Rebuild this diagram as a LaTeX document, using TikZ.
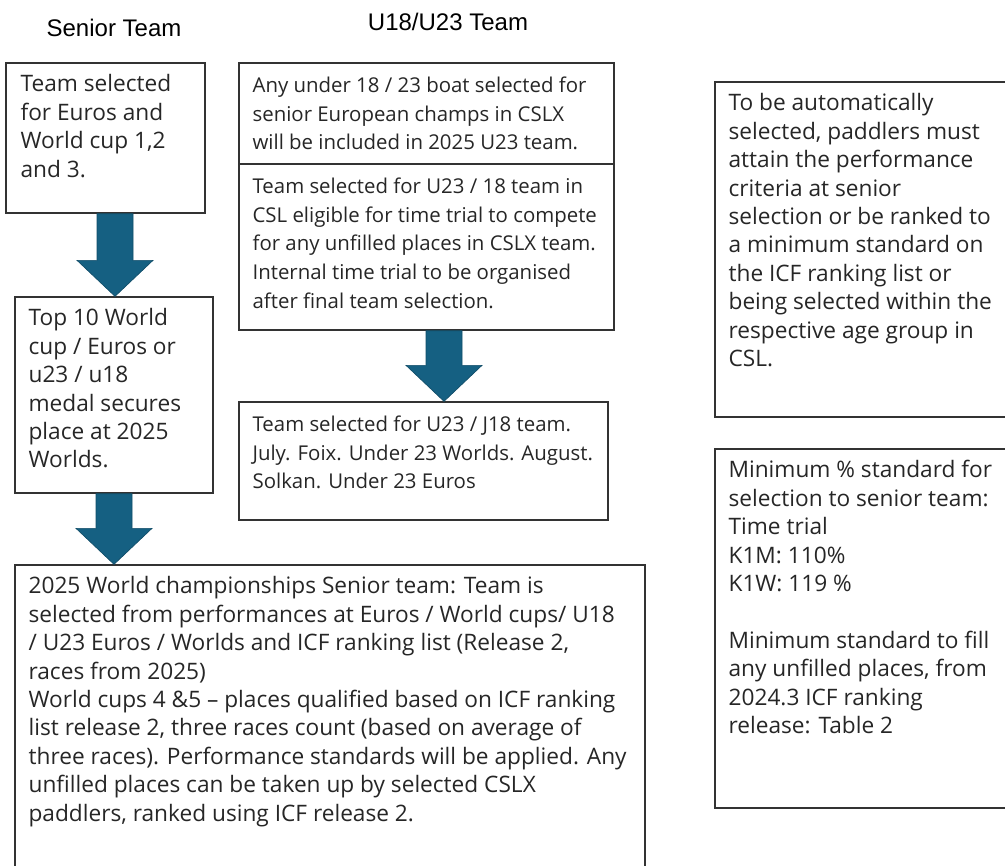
\documentclass[tikz,border=0pt]{standalone}
\usepackage{fontspec}
\setmainfont{Open Sans}
\newfontfamily\headfont{Liberation Sans}
\usetikzlibrary{calc,fit}

\definecolor{arrowblue}{RGB}{21,96,130}

% block arrow: #1 x position, #2 top, #3 tip
\newcommand{\blockarrow}[3]{%
  \path[fill=arrowblue, draw=arrowblue!80!black, line width=0.5pt]
    let \p1=(#1 |- #2), \p2=(#1 |- #3) in
    (\x1-13.5pt,\y1) -- (\x1+13.5pt,\y1) -- (\x1+13.5pt,\y2+27pt)
    -- (\x1+28.5pt,\y2+27pt) -- (\x2,\y2) -- (\x1-28.5pt,\y2+27pt)
    -- (\x1-13.5pt,\y2+27pt) -- cycle;}

\begin{document}
\begin{tikzpicture}[x=0.75pt,y=-0.75pt,
  box/.style={draw=black!80, line width=1pt, inner sep=0pt},
  boxtext/.style={anchor=north west, inner sep=0pt, align=left,
    font=\fontsize{17}{21.3}\selectfont, text=black!85},
  narrowtext/.style={boxtext, font=\fontsize{15.3}{21.6}\selectfont},
  head/.style={font=\headfont\fontsize{18}{20}\selectfont}]
  \useasboundingbox (0,0) rectangle (1005,865);
  \clip (0,0) rectangle (1005,865);

  % column titles
  \node[head] (hsen) at (114,28) {Senior Team};
  \node[head] (hjun) at (448,22) {U18/U23 Team};

  % senior column
  \node[box, fit={(6,63) (205,213)}] (tsen) {};
  \node[boxtext] (tsen-t) at ($(tsen.north west)+(15,12)$)
    {Team selected\\for Euros and\\World cup 1,2\\and 3.};
  \node[box, fit={(15,297) (213,493)}] (top) {};
  \node[boxtext] (top-t) at ($(top.north west)+(14,12)$)
    {Top 10 World\\cup / Euros or\\u23 / u18\\medal secures\\place at 2025\\Worlds.};
  \node[box, fit={(15,565) (645,880)}] (wch) {};
  \node[boxtext] (wch-t) at ($(wch.north west)+(14,12)$)
    {2025 World championships Senior team: Team is\\
     selected from performances at Euros / World cups/ U18\\
     / U23 Euros / Worlds and ICF ranking list (Release 2,\\
     races from 2025)\\
     World cups 4 \&5 -- places qualified based on ICF ranking\\
     list release 2, three races count (based on average of\\
     three races). Performance standards will be applied. Any\\
     unfilled places can be taken up by selected CSLX\\
     paddlers, ranked using ICF release 2.};

  % U18/U23 column
  \node[box, fit={(239,63) (614,164)}] (csx) {};
  \node[narrowtext] (csx-t) at ($(csx.north west)+(14,14)$)
    {Any under 18 / 23 boat selected for\\senior European champs in CSLX\\will be included in 2025 U23 team.};
  \node[box, fit={(239,164) (614,330)}] (csl) {};
  \node[narrowtext] (csl-t) at ($(csl.north west)+(14,14)$)
    {Team selected for U23 / 18 team in\\CSL eligible for time trial to compete\\
     for any unfilled places in CSLX team.\\Internal time trial to be organised\\
     after final team selection.};
  \node[box, fit={(239,402) (608,520)}] (jun) {};
  \node[narrowtext] (jun-t) at ($(jun.north west)+(14,14)$)
    {Team selected for U23 / J18 team.\\July. Foix. Under 23 Worlds. August.\\Solkan. Under 23 Euros};

  % notes on the right
  \node[box, fit={(715,82) (1020,417)}] (auto) {};
  \node[boxtext] (auto-t) at ($(auto.north west)+(14,12)$)
    {To be automatically\\selected, paddlers must\\attain the performance\\criteria at senior\\
     selection or be ranked to\\a minimum standard on\\the ICF ranking list or\\
     being selected within the\\respective age group in\\CSL.};
  \node[box, fit={(715,449) (1020,808)}] (std) {};
  \node[boxtext] (std-t) at ($(std.north west)+(14,12)$)
    {Minimum \% standard for\\selection to senior team:\\Time trial\\K1M: 110\%\\K1W: 119 \%\\[21.3pt]
     Minimum standard to fill\\any unfilled places, from\\2024.3 ICF ranking\\release: Table 2};

  % block arrows
  \coordinate (ar1) at (115,0);
  \coordinate (ar2) at (114,0);
  \coordinate (ar3) at (444,0);
  \blockarrow{ar1}{tsen.south}{top.north}
  \blockarrow{ar2}{top.south}{wch.north}
  \blockarrow{ar3}{csl.south}{jun.north}
\end{tikzpicture}
\end{document}
